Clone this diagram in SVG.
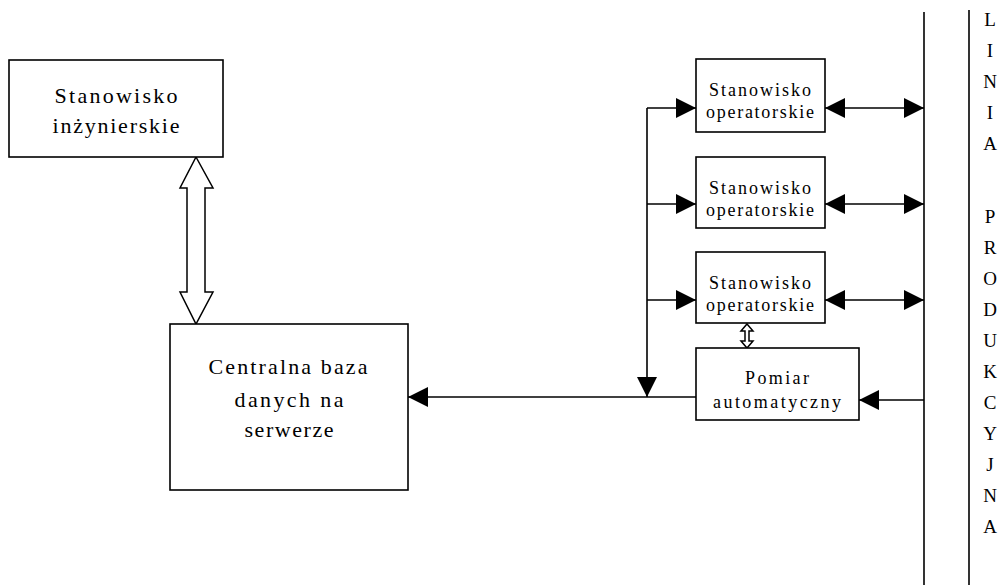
<svg xmlns="http://www.w3.org/2000/svg" width="1003" height="585" viewBox="0 0 1003 585">
<style>
.box{fill:#fff;stroke:#000;stroke-width:1.6}
.t{font-family:"Liberation Serif","Times New Roman",serif;fill:#000;text-anchor:middle}
.big{font-size:22px}
.sm{font-size:18px}
.let{font-family:"Liberation Serif","Times New Roman",serif;font-size:19px;text-anchor:middle;fill:#000}
.ln{fill:none;stroke:#000;stroke-width:1.6}
.hollow{fill:#fff;stroke:#000;stroke-width:1.5}
</style>
<defs>
<marker id="ah" viewBox="0 0 20 20" refX="20" refY="10" markerWidth="20" markerHeight="20" markerUnits="userSpaceOnUse" orient="auto-start-reverse">
<path d="M0,0 L20,10 L0,20 z" fill="#000"/>
</marker>
</defs>
<rect width="1003" height="585" fill="#fff"/>
<g id="connectors">
<polygon class="hollow" points="196,157 213,188 205,188 205,292 213,292 196,324 180,292 187,292 187,188 180,188"/>
<path class="ln" d="M647,108 V397" marker-end="url(#ah)"/>
<path class="ln" d="M647,108 H696" marker-end="url(#ah)"/>
<path class="ln" d="M647,204 H696" marker-end="url(#ah)"/>
<path class="ln" d="M647,300 H696" marker-end="url(#ah)"/>
<path class="ln" d="M696,397 H408" marker-end="url(#ah)"/>
<path class="ln" d="M825,108 H924" marker-start="url(#ah)" marker-end="url(#ah)"/>
<path class="ln" d="M825,204 H924" marker-start="url(#ah)" marker-end="url(#ah)"/>
<path class="ln" d="M825,300 H924" marker-start="url(#ah)" marker-end="url(#ah)"/>
<path class="ln" d="M924,400 H859" marker-end="url(#ah)"/>
<polygon class="hollow" points="747,324 753,331 749,331 749,341 753,341 747,348 741,341 745,341 745,331 741,331"/>
<path class="ln" d="M924,12 V585"/>
<path class="ln" d="M969,10 V585"/>
</g>
<g id="inz">
<rect class="box" x="9" y="60" width="214" height="97"/>
<text class="t big" x="116" y="103" textLength="123">Stanowisko</text>
<text class="t big" x="116" y="133" textLength="127">inżynierskie</text>
</g>
<g id="baza">
<rect class="box" x="170" y="324" width="238" height="166"/>
<text class="t big" x="288" y="374" textLength="159">Centralna baza</text>
<text class="t big" x="289" y="407" textLength="109">danych na</text>
<text class="t big" x="289" y="437" textLength="89">serwerze</text>
</g>
<g id="op1">
<rect class="box" x="696" y="59" width="129" height="73"/>
<text class="t sm" x="760" y="96" textLength="102">Stanowisko</text>
<text class="t sm" x="760" y="118" textLength="108">operatorskie</text>
</g>
<g id="op2">
<rect class="box" x="696" y="157" width="129" height="71"/>
<text class="t sm" x="760" y="194" textLength="102">Stanowisko</text>
<text class="t sm" x="760" y="216" textLength="108">operatorskie</text>
</g>
<g id="op3">
<rect class="box" x="696" y="252" width="129" height="71"/>
<text class="t sm" x="760" y="289" textLength="102">Stanowisko</text>
<text class="t sm" x="760" y="311" textLength="108">operatorskie</text>
</g>
<g id="pomiar">
<rect class="box" x="696" y="348" width="163" height="72"/>
<text class="t sm" x="777" y="384" textLength="64">Pomiar</text>
<text class="t sm" x="777" y="408" textLength="128">automatyczny</text>
</g>
<g id="linia">
<text class="let" x="990" y="26">L</text>
<text class="let" x="990" y="57">I</text>
<text class="let" x="990" y="88">N</text>
<text class="let" x="990" y="119">I</text>
<text class="let" x="990" y="150">A</text>
<text class="let" x="990" y="223">P</text>
<text class="let" x="990" y="254">R</text>
<text class="let" x="990" y="285">O</text>
<text class="let" x="990" y="316">D</text>
<text class="let" x="990" y="347">U</text>
<text class="let" x="990" y="378">K</text>
<text class="let" x="990" y="409">C</text>
<text class="let" x="990" y="440">Y</text>
<text class="let" x="990" y="471">J</text>
<text class="let" x="990" y="502">N</text>
<text class="let" x="990" y="533">A</text>
</g>
</svg>
